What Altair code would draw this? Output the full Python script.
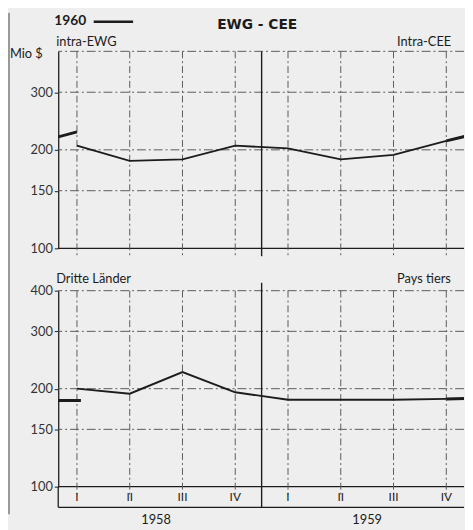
import altair as alt
import pandas as pd

# ---------------- data ----------------
QUARTER_POS = [1, 2, 3, 4, 5, 6, 7, 8]
QUARTER_LABELS = ["I", "II", "III", "IV", "I", "II", "III", "IV"]
YEAR_POS = [2.5, 6.5]
YEAR_LABELS = ["1958", "1959"]
YEAR_BREAK = 4.5

INTRA = [206, 185, 187, 206, 202, 187, 193, 213]      # intra-EWG, Mio $
DRITTE = [200, 193, 225, 195, 185, 185, 185, 186]     # Dritte Länder, Mio $

X_MIN, X_MAX = 0.645, 8.336
# 1960 series (thick line) segments
INTRA_1960_A_T = [X_MIN, 1.0]
INTRA_1960_A_V = [219, 227]
INTRA_1960_B_T = [8, 9]
INTRA_1960_B_V = [213, 233]
DRITTE_1960_A_T = [X_MIN, 1.075]
DRITTE_1960_A_V = [184, 184]
DRITTE_1960_B_T = [8, 9]
DRITTE_1960_B_V = [186, 188]

TOP_TICKS = [100, 150, 200, 300]
BOT_TICKS = [100, 150, 200, 300, 400]
TOP_GRID = [150, 200, 300, 400]
BOT_GRID = [150, 200, 300, 400]

W = 412
H_TOP = 200
H_BOT = 199
FONT = "Lato"
INK = "#1c1c1c"
GRID = "#5a5a5a"
BG = "#eeeeee"

xscale = alt.Scale(domain=[X_MIN, X_MAX], nice=False, zero=False)
yscale = alt.Scale(type="log", domain=[100, 400], nice=False)


def X(field="t"):
    return alt.X(f"{field}:Q", scale=xscale, axis=None)


def Y(ticks, field="v"):
    return alt.Y(f"{field}:Q", scale=yscale, title=None,
                 axis=alt.Axis(values=ticks, grid=False, format="d",
                               domainColor=INK, domainWidth=1.3,
                               tickColor=INK, tickSize=4,
                               labelFont=FONT, labelFontSize=13,
                               labelColor="#333333", labelPadding=2))


def one():
    return pd.DataFrame({"a": [0]})


def text_layer(txt, x, y, size=13, bold=False, align="left", font=FONT):
    return alt.Chart(one()).mark_text(
        text=txt, align=align, baseline="middle", font=font, fontSize=size,
        fontWeight="bold" if bold else "normal", color=INK
    ).encode(x=alt.value(x), y=alt.value(y))


def panel(values, segs, ticks, grid, height, lab_l, lab_r, lab_y, top):
    df = pd.DataFrame({"t": QUARTER_POS, "v": values})
    layers = []
    # horizontal dashed grid lines
    layers.append(alt.Chart(pd.DataFrame({"v": grid})).mark_rule(
        color=GRID, strokeWidth=1, strokeDash=[9, 3, 2, 3]
    ).encode(y=Y(ticks)))
    # 100 base line (solid)
    layers.append(alt.Chart(pd.DataFrame({"v": [100]})).mark_rule(
        color=INK, strokeWidth=1.2
    ).encode(y=Y(ticks)))
    # vertical dashed quarter lines
    layers.append(alt.Chart(pd.DataFrame({"t": QUARTER_POS})).mark_rule(
        color=GRID, strokeWidth=1, strokeDash=[7, 3, 2, 3]
    ).encode(x=X(), y=alt.value(0), y2=alt.value(height + 8)))
    # solid year boundary
    layers.append(alt.Chart(pd.DataFrame({"t": [YEAR_BREAK]})).mark_rule(
        color=INK, strokeWidth=1.4
    ).encode(x=X(), y=alt.value(0 if top else -8),
             y2=alt.value(height + 8 if top else height + 21)))
    # data line 1958-1959
    layers.append(alt.Chart(df).mark_line(color=INK, strokeWidth=1.9).encode(
        x=X(), y=Y(ticks)))
    # 1960 thick segments
    for (ts, vs) in segs:
        layers.append(alt.Chart(pd.DataFrame({"t": ts, "v": vs})).mark_line(
            color=INK, strokeWidth=3, clip=True).encode(x=X(), y=Y(ticks)))
    # panel labels
    layers.append(text_layer(lab_l, -2, lab_y))
    layers.append(text_layer(lab_r, 344, lab_y))
    if top:
        # page edge line
        layers.append(alt.Chart(one()).mark_rule(color="#444444", strokeWidth=1).encode(
            x=alt.value(-50), y=alt.value(-39), y2=alt.value(470)))
        layers.append(text_layer("Mio $", -49, 3, size=13))
        layers.append(text_layer("1960", -4, -31, size=14, bold=True))
        layers.append(alt.Chart(one()).mark_rule(color=INK, strokeWidth=2.5).encode(
            x=alt.value(36), x2=alt.value(76), y=alt.value(-30)))
        layers.append(text_layer("EWG - CEE", 202, -27, size=14, bold=True,
                                 align="center", font="DejaVu Sans"))
    else:
        # bottom axis box
        layers.append(alt.Chart(one()).mark_rule(color=INK, strokeWidth=1.3).encode(
            x=alt.value(0), y=alt.value(height), y2=alt.value(height + 21)))
        layers.append(alt.Chart(one()).mark_rule(color=INK, strokeWidth=1.3).encode(
            x=alt.value(0), x2=alt.value(W), y=alt.value(height + 21)))
        layers.append(alt.Chart(pd.DataFrame({"t": QUARTER_POS, "lab": QUARTER_LABELS})).mark_text(
            font=FONT, fontSize=12, color=INK, baseline="middle"
        ).encode(x=X(), y=alt.value(height + 11), text="lab:N"))
        layers.append(alt.Chart(pd.DataFrame({"t": YEAR_POS, "lab": YEAR_LABELS})).mark_text(
            font=FONT, fontSize=13, color=INK, baseline="middle"
        ).encode(x=X(), y=alt.value(height + 34), text="lab:N"))
    return alt.layer(*layers).properties(width=W, height=height)


top = panel(INTRA, [(INTRA_1960_A_T, INTRA_1960_A_V), (INTRA_1960_B_T, INTRA_1960_B_V)],
            TOP_TICKS, TOP_GRID, H_TOP, "intra-EWG", "Intra-CEE", -9, True)
bot = panel(DRITTE, [(DRITTE_1960_A_T, DRITTE_1960_A_V), (DRITTE_1960_B_T, DRITTE_1960_B_V)],
            BOT_TICKS, BOT_GRID, H_BOT, "Dritte Länder", "Pays tiers", -12, False)

chart = alt.vconcat(top, bot, spacing=43, bounds="flush").properties(
    padding=0, background=BG
).configure_view(stroke=None)

chart.save("out.html", embed_options={"renderer": "svg", "actions": False})
